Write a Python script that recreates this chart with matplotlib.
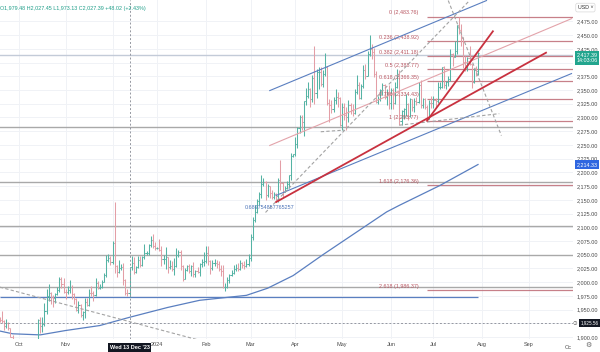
import numpy as np
import pandas as pd
import matplotlib.pyplot as plt
import matplotlib.transforms as mtransforms
from matplotlib.collections import LineCollection

plt.rcParams['font.family'] = ['Liberation Sans', 'DejaVu Sans']

# daily XAUUSD bars, business days 18 Sep 2023 .. 30 Jul 2024
opens = [
    1924, 1934, 1931, 1930, 1920, 1925, 1916, 1901, 1874, 1864,  # Sep
    1849, 1828, 1822, 1821, 1820, 1833, 1861, 1861, 1874, 1869, 1932, 1920, 1923, 1947, 1974, 1981,
    1973, 1971, 1979, 1985, 2006, 1996,  # Oct
    1983, 1982, 1985, 1992, 1978, 1969, 1950, 1958, 1940, 1946, 1963, 1959, 1981, 1980, 1977, 1999,
    1990, 1992, 2001, 2013, 2040, 2044,  # Nov
    2036, 2072, 2029, 2019, 2025, 2028, 2004, 1981, 1979.48, 2027, 2035, 2019, 2027, 2040, 2031, 2046,
    2053, 2053, 2067, 2077, 2065,  # Dec
    2063, 2063, 2059, 2042, 2043, 2045, 2027, 2030, 2024, 2029, 2049, 2055, 2029, 2006, 2023, 2029,
    2021, 2029, 2014, 2021, 2018, 2033, 2037,  # Jan
    2039, 2054, 2039, 2025, 2035, 2035, 2034, 2024, 2020, 1992, 1992, 2004, 2013, 2017, 2024, 2025,
    2024, 2035, 2031, 2029, 2034,  # Feb
    2044, 2083, 2114, 2128, 2148, 2160, 2179, 2182, 2158, 2175, 2162, 2155, 2160, 2157, 2186, 2181,
    2165, 2172, 2179, 2195, 2230,  # Mar
    2233, 2251, 2280, 2300, 2291, 2330, 2339, 2352, 2333, 2372, 2344, 2383, 2383, 2361, 2379, 2392,
    2327, 2322, 2316, 2332, 2337, 2336,  # Apr
    2286, 2320, 2304, 2301, 2323, 2314, 2309, 2346, 2360, 2336, 2358, 2386, 2376, 2415, 2425, 2420,
    2379, 2329, 2333, 2350, 2360, 2338, 2343,  # May
    2327, 2350, 2327, 2355, 2376, 2294, 2311, 2316, 2325, 2303, 2333, 2319, 2330, 2329, 2360, 2322,
    2334, 2319, 2298, 2327,  # Jun
    2326, 2332, 2330, 2356, 2356, 2392, 2359, 2364, 2371, 2415, 2411, 2422, 2469, 2459, 2445, 2401,
    2396, 2409, 2397, 2364, 2387, 2384,  # Jul
]
highs = [
    1937, 1937, 1947, 1932, 1933, 1928, 1917, 1903, 1880, 1880,
    1851, 1834, 1828, 1826, 1835, 1865, 1867, 1876, 1885, 1933, 1937, 1937, 1962, 1987, 1997, 1982,
    1977, 1981, 1991, 2009, 2010, 2008,
    1988, 1993, 2004, 1994, 1980, 1971, 1965, 1960, 1948, 1971, 1971, 1987, 1993, 1984, 2007, 2002,
    1997, 2004, 2017, 2049, 2052, 2048,
    2075, 2146, 2031, 2040, 2034, 2035, 2005, 1987, 2027.45, 2047, 2045, 2029, 2047, 2047, 2048, 2070,
    2056, 2070, 2084, 2088, 2073,
    2064, 2079, 2065, 2050, 2064, 2046, 2041, 2039, 2044, 2062, 2058, 2058, 2031, 2025, 2031, 2033,
    2031, 2037, 2023, 2027, 2035, 2042, 2055,
    2065, 2066, 2040, 2040, 2043, 2041, 2039, 2031, 2032, 1998, 2010, 2015, 2023, 2031, 2034, 2035,
    2041, 2037, 2038, 2043, 2052,
    2088, 2119, 2141, 2152, 2164, 2195, 2189, 2184, 2178, 2176, 2167, 2164, 2163, 2189, 2222, 2182,
    2176, 2184, 2195, 2236, 2234,
    2265, 2282, 2305, 2305, 2330, 2354, 2365, 2354, 2378, 2431, 2389, 2392, 2392, 2387, 2417, 2393,
    2333, 2332, 2338, 2352, 2346, 2337,
    2326, 2326, 2319, 2331, 2327, 2324, 2351, 2378, 2364, 2361, 2395, 2398, 2422, 2450, 2433, 2427,
    2385, 2340, 2351, 2362, 2361, 2351, 2360,
    2354, 2353, 2364, 2388, 2387, 2313, 2317, 2342, 2327, 2335, 2334, 2336, 2337, 2365, 2369, 2335,
    2336, 2322, 2331, 2340,
    2339, 2335, 2365, 2364, 2392, 2393, 2366, 2375, 2424, 2418, 2440, 2469, 2483.76, 2470, 2447, 2412,
    2411, 2431, 2398, 2391, 2393, 2419,
]
lows = [
    1922, 1927, 1925, 1913, 1916, 1912, 1900, 1872, 1858, 1846,
    1827, 1815, 1816, 1813, 1810, 1831, 1854, 1859, 1866, 1868, 1908, 1909, 1921, 1942, 1966, 1961,
    1954, 1962, 1977, 1983, 1990, 1980,
    1970, 1978, 1980, 1970, 1960, 1947, 1944, 1937, 1932, 1935, 1956, 1956, 1975, 1965, 1975, 1988,
    1988, 1990, 2000, 2010, 2036, 2031,
    2033, 2017, 2009, 2016, 2022, 1995, 1976, 1975, 1973.13, 2023, 2014, 2016, 2026, 2028, 2029, 2043,
    2050, 2049, 2064, 2063, 2058,
    2061, 2057, 2030, 2033, 2024, 2017, 2024, 2021, 2013, 2028, 2046, 2023, 2002, 2005, 2021, 2016,
    2011, 2010, 2009, 2016, 2011, 2027, 2030,
    2035, 2031, 2015, 2022, 2029, 2026, 2021, 2012, 1990, 1984, 1989, 1998, 2011, 2015, 2020, 2020,
    2022, 2025, 2024, 2027, 2030,
    2038, 2076, 2110, 2126, 2141, 2154, 2176, 2150, 2156, 2153, 2152, 2152, 2146, 2146, 2168, 2156,
    2164, 2170, 2171, 2186, 2228,
    2229, 2244, 2272, 2278, 2267, 2322, 2336, 2319, 2328, 2325, 2335, 2352, 2358, 2356, 2376, 2322,
    2292, 2309, 2310, 2325, 2320, 2285,
    2277, 2295, 2277, 2291, 2306, 2303, 2306, 2342, 2333, 2334, 2354, 2371, 2376, 2412, 2407, 2374,
    2326, 2325, 2330, 2341, 2334, 2323, 2315,
    2315, 2315, 2324, 2353, 2287, 2286, 2298, 2303, 2295, 2300, 2311, 2310, 2323, 2326, 2317, 2318,
    2316, 2293.77, 2297, 2318,
    2318, 2319, 2326, 2351, 2353, 2353, 2351, 2357, 2366, 2393, 2410, 2416, 2452, 2430, 2391, 2385,
    2384, 2395, 2353, 2362, 2375, 2378,
]
closes = [
    1934, 1931, 1930, 1920, 1925, 1916, 1901, 1874, 1864, 1849,
    1828, 1822, 1821, 1820, 1833, 1861, 1861, 1874, 1869, 1932, 1920, 1923, 1947, 1974, 1981, 1973,
    1971, 1979, 1985, 2006, 1996, 1983,
    1982, 1985, 1992, 1978, 1969, 1950, 1958, 1940, 1946, 1963, 1959, 1981, 1980, 1977, 1999, 1990,
    1992, 2001, 2013, 2040, 2044, 2036,
    2072, 2029, 2019, 2025, 2028, 2004, 1981, 1979.5, 2027.39, 2035, 2019, 2027, 2040, 2031, 2046, 2053,
    2053, 2067, 2077, 2065, 2063,
    2063, 2059, 2042, 2043, 2045, 2027, 2030, 2024, 2029, 2049, 2055, 2029, 2006, 2023, 2029, 2021,
    2029, 2014, 2021, 2018, 2033, 2037, 2039,
    2054, 2039, 2025, 2035, 2035, 2034, 2024, 2020, 1992, 1992, 2004, 2013, 2017, 2024, 2025, 2024,
    2035, 2031, 2029, 2034, 2044,
    2083, 2114, 2128, 2148, 2160, 2179, 2182, 2158, 2175, 2162, 2155, 2160, 2157, 2186, 2181, 2165,
    2172, 2179, 2195, 2230, 2233,
    2251, 2280, 2300, 2291, 2330, 2339, 2352, 2333, 2372, 2344, 2383, 2383, 2361, 2379, 2392, 2327,
    2322, 2316, 2332, 2337, 2336, 2286,
    2320, 2304, 2301, 2323, 2314, 2309, 2346, 2360, 2336, 2358, 2386, 2376, 2415, 2425, 2420, 2379,
    2329, 2333, 2350, 2360, 2338, 2343, 2327,
    2350, 2327, 2355, 2376, 2294, 2311, 2316, 2325, 2303, 2333, 2319, 2330, 2329, 2360, 2322, 2334,
    2319, 2298, 2327, 2326,
    2332, 2330, 2356, 2356, 2392, 2359, 2364, 2371, 2415, 2411, 2422, 2469, 2459, 2445, 2401, 2396,
    2409, 2397, 2364, 2387, 2384, 2417.39,
]

# moving average
ma_dates = ['2023-09-19', '2023-09-27', '2023-10-16', '2023-11-01', '2023-11-23', '2023-12-13',
            '2024-01-08', '2024-01-29', '2024-02-28', '2024-03-13', '2024-03-29', '2024-04-18',
            '2024-05-30', '2024-06-07', '2024-07-04', '2024-07-30']
ma_values = [1911, 1906, 1904, 1912, 1921, 1936, 1954, 1967, 1976, 1989, 2012, 2050,
             2128, 2140, 2176, 2214.33]

# drawings
hlevels_gray = [2282, 2182, 2103, 2049, 1992]
hlevel_top = 2414
hlevel_blue = 1973.13
fib_high = 2483.76
fib_low = 2293.77
fib_start = '2024-06-26'
fib_ratios = [0, 0.236, 0.382, 0.5, 0.618, 0.786, 1, 1.618, 2.618]
channel_upper = [('2024-03-14', 2349), ('2024-08-05', 2513)]
channel_mid = [('2024-03-14', 2249), ('2024-09-30', 2480)]
channel_lower = [('2024-03-19', 2158), ('2024-09-30', 2380)]
trend_long = [('2024-03-19', 2146), ('2024-09-12', 2418)]
trend_steep = [('2024-06-26', 2294), ('2024-08-08', 2457)]
dashed_lines = [
    [('2023-09-19', 1991), ('2024-02-05', 1889)],
    [('2024-03-12', 2127), ('2024-07-24', 2513)],
    [('2024-04-17', 2274), ('2024-05-02', 2277)],
    [('2024-06-07', 2286), ('2024-08-13', 2307)],
    [('2024-07-10', 2513), ('2024-08-14', 2267)],
]
cross_date = '2023-12-13'
cross_price = 1925.56
last_price = 2417.39

month_labels = ['Oct', 'Nov', '', '2024', 'Feb', 'Mar', 'Apr', 'May', 'Jun', 'Jul', 'Aug', 'Sep']
month_starts = ['2023-10-02', '2023-11-01', '2023-12-01', '2024-01-01', '2024-02-01', '2024-03-01',
                '2024-04-01', '2024-05-01', '2024-06-03', '2024-07-01', '2024-08-01', '2024-09-02']

cal = pd.bdate_range('2023-09-18', '2024-10-31')
def pos(d):
    return cal.get_loc(pd.Timestamp(d))

n = len(closes)
assert len(opens) == len(highs) == len(lows) == n
assert cal[n - 1] == pd.Timestamp('2024-07-30'), cal[n - 1]

fig = plt.figure(figsize=(6, 3.52), dpi=100)
ax = fig.add_axes([0, 13 / 352, 573 / 600, 339 / 352])
x0, x1 = 1.06, 270.7
ax.set_xlim(x0, x1)
ax.set_ylim(1896.5, 2514)
for s in ax.spines.values():
    s.set_visible(False)

# grid
yt = np.arange(1900, 2476, 25)
for y in yt:
    ax.axhline(y, color='#f0f2f6', lw=0.7, zorder=0)
for d in month_starts:
    ax.axvline(pos(d), color='#f0f2f6', lw=0.7, zorder=0)

# horizontal lines
for lv in hlevels_gray:
    ax.axhline(lv, color='#a9a9a9', lw=1.0, zorder=1)
ax.axhline(hlevel_top, color='#c3cbd8', lw=1.0, zorder=1)
ax.hlines(hlevel_blue, x0, n - 1, color='#5a7fc0', lw=0.9, zorder=1)

# fibonacci
fs = pos(fib_start)
for r in fib_ratios:
    lv = fib_high - r * (fib_high - fib_low)
    ax.hlines(lv, fs, x1, color='#bd6a75', lw=0.9, alpha=0.85, zorder=1)
    ax.annotate(f'{r:g} ({lv:,.2f})', (fs, lv), xytext=(-6, 0.8), textcoords='offset points',
                ha='right', va='bottom', fontsize=3.9, color='#b85560', zorder=4)

# moving average
ax.plot([pos(d) for d in ma_dates], ma_values, color='#5a7fc0', lw=0.9, zorder=2)

# OHLC bars
segs, cols = [], []
for i in range(n):
    c = '#55b3a4' if closes[i] >= opens[i] else '#e39ea6'
    segs += [[(i, lows[i]), (i, highs[i])], [(i - 0.5, opens[i]), (i, opens[i])],
             [(i, closes[i]), (i + 0.5, closes[i])]]
    cols += [c, c, c]
ax.add_collection(LineCollection(segs, colors=cols, linewidths=0.75, zorder=3))

def draw(line, **kw):
    ax.plot([pos(d) for d, _ in line], [p for _, p in line], **kw)

draw(channel_upper, color='#5a7fc0', lw=0.8, zorder=4)
draw(channel_lower, color='#5a7fc0', lw=0.8, zorder=4)
draw(channel_mid, color='#e3a3aa', lw=0.8, zorder=4)
draw(trend_long, color='#c8313f', lw=1.3, zorder=5)
draw(trend_steep, color='#c8313f', lw=1.3, zorder=5)
for dl in dashed_lines:
    draw(dl, color='#a3a3a3', lw=0.8, ls=(0, (3, 2)), zorder=4)
ax.text(pos('2024-03-14'), 2136, '0.689754857765257', fontsize=3.9, color='#4b73b8',
        ha='center', va='center', zorder=6)

# crosshair
ax.axvline(pos(cross_date), color='#9598a1', lw=0.7, ls=(0, (2, 2)), zorder=6)
ax.axhline(cross_price, color='#9598a1', lw=0.7, ls=(0, (2, 2)), zorder=6)

# price axis (labels hidden behind the marker boxes are left out)
hidden = {1925, 2400}
ax.yaxis.tick_right()
ax.set_yticks(yt)
ax.set_yticklabels(['' if v in hidden else f'{v:,.2f}' for v in yt])
ax.tick_params(axis='y', length=0, pad=2.8, labelsize=4, labelcolor='#4a4a4a')
ax.set_xticks([pos(d) for d in month_starts])
ax.set_xticklabels(month_labels)
ax.tick_params(axis='x', length=0, pad=2.5, labelsize=4, labelcolor='#4a4a4a')

tr = mtransforms.blended_transform_factory(ax.transAxes, ax.transData)
ax.text(1.006, last_price + 1, '2,417.39\n14:03:06', transform=tr, fontsize=3.9, color='white',
        ha='left', va='top', linespacing=1.15, clip_on=False, zorder=10,
        bbox=dict(boxstyle='square,pad=0.3', fc='#22a58e', ec='none'))
ax.text(1.006, ma_values[-1], '2,214.33', transform=tr, fontsize=3.9, color='white',
        ha='left', va='center', clip_on=False, zorder=10,
        bbox=dict(boxstyle='square,pad=0.3', fc='#2f66e0', ec='none'))
ax.text(1.013, cross_price, '1,925.56', transform=tr, fontsize=3.3, color='white',
        ha='left', va='center', clip_on=False, zorder=10,
        bbox=dict(boxstyle='square,pad=0.25', fc='#131722', ec='none'))
ax.text(0.999, cross_price, '\u2299', transform=tr, fontsize=4.0, color='#555555',
        ha='left', va='center', clip_on=False, zorder=10, family=['DejaVu Sans'])
ax.text(1.008, 0.985, 'USD \u02c5', transform=ax.transAxes, fontsize=3.8, color='#333333',
        ha='left', va='top', clip_on=False, zorder=10,
        bbox=dict(boxstyle='round,pad=0.35', fc='white', ec='#d8d8d8', lw=0.5))

trx = mtransforms.blended_transform_factory(ax.transData, ax.transAxes)
ax.text(pos(cross_date), -0.018, "Wed 13 Dec '23", transform=trx, fontsize=4, color='white',
        ha='center', va='top', clip_on=False, zorder=10, fontweight='bold',
        bbox=dict(boxstyle='square,pad=0.3', fc='#131722', ec='none'))
ax.text(x1 - 0.5, -0.018, 'Oc', transform=trx, fontsize=4, color='#4a4a4a',
        ha='right', va='top', clip_on=False)
fig.text(588 / 600, 7 / 352, '\u2699', fontsize=5, color='#666666', ha='center', va='center',
         family=['DejaVu Sans'])

ax.text(0.0, 0.982, 'O1,979.48 H2,027.45 L1,973.13 C2,027.39 +48.02 (+2.43%)',
        transform=ax.transAxes, fontsize=3.9, color='#1f9e89', ha='left', va='top', zorder=10)

fig.savefig('out.png', dpi=100)
